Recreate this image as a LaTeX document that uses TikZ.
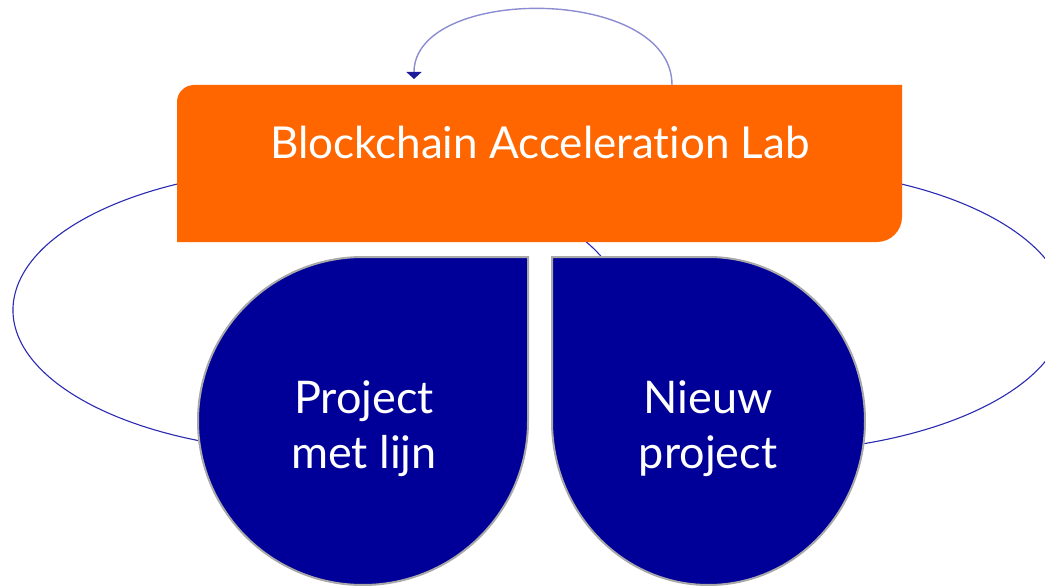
\documentclass[tikz,border=0pt]{standalone}
\usepackage{fontspec}
\setmainfont{Lato}[Ligatures={NoCommon,NoRare,NoDiscretionary}]
\usetikzlibrary{arrows.meta}
\definecolor{orng}{HTML}{FF6600}
\definecolor{dblue}{HTML}{000099}
\definecolor{ringblue}{HTML}{2A2AB2}
\definecolor{loopblue}{HTML}{8C8CD2}
\definecolor{tipblue}{HTML}{1C1C9A}
\definecolor{edgegray}{HTML}{A8A8A8}
\tikzset{
  ring/.style={draw=ringblue, line width=1.1pt},
  labbox/.style={fill=orng},
  drop/.style={fill=dblue, draw=edgegray, line width=2pt},
  droptext/.style={text=white, font=\fontsize{45}{55}\selectfont, align=center, anchor=base},
  labtext/.style={text=white, font=\fontsize{44}{52}\selectfont, anchor=base},
  looparrow/.style={draw=loopblue, line width=1.4pt, -{Triangle[length=7pt,width=15pt,color=tipblue]}}
}
\begin{document}
\begin{tikzpicture}[x=1pt,y=-1pt]
\useasboundingbox (0,0) rectangle (1045,586);
\clip (0,0) rectangle (1045,586);
% cycle rings (partly hidden behind the shapes)
\draw[ring] (265.3,449.8) arc[start angle=100, end angle=360, x radius=305.3, y radius=142];
\draw[ring] (865.1,176.6) arc[start angle=-70, end angle=80, x radius=305.3, y radius=142];
% orange lab box
\fill[labbox] (177,242) -- (177,102) arc[start angle=180, end angle=270, radius=17]
  -- (902,85) -- (902,217) arc[start angle=0, end angle=90, radius=25] -- cycle;
\node[labtext] (lab) at (540,158) {Blockchain Acceleration Lab};
% teardrops
\draw[drop] (528,257) -- (528,421) arc[start angle=0, end angle=270, x radius=165, y radius=164] -- cycle;
\draw[drop] (552,257) -- (708.5,257) arc[start angle=270, end angle=540, x radius=156.5, y radius=164] -- cycle;
\node[droptext] (proj) at (364,468) {Project\\met lijn};
\node[droptext] (nieuw) at (708,468) {Nieuw\\project};
% self loop arrow on the lab box
\coordinate (loopS) at (672,85);
\coordinate (loopE) at (414,79);
\draw[looparrow] (loopS) .. controls (672,-15) and (414,-15) .. (loopE);
\end{tikzpicture}
\end{document}
